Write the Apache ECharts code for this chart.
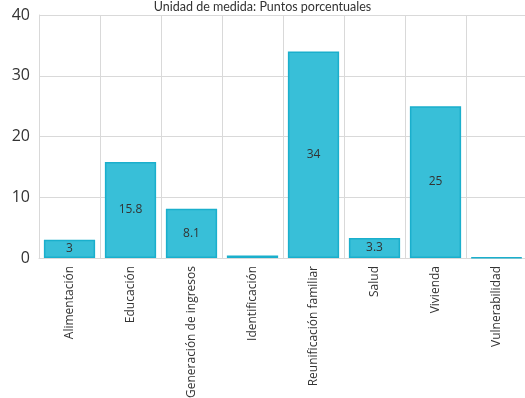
<!DOCTYPE html>
<html>
<head>
<meta charset="utf-8">
<script src="https://cdn.jsdelivr.net/npm/echarts@6/dist/echarts.min.js"></script>
<style>
  html, body { margin: 0; padding: 0; background: #fff; }
  #main { width: 525px; height: 398px; }
</style>
</head>
<body>
<div id="main"></div>
<script>
const categories = ['Alimentación', 'Educación', 'Generación de ingresos', 'Identificación',
  'Reunificación familiar', 'Salud', 'Vivienda', 'Vulnerabilidad'];
const values = [3, 15.8, 8.1, 0.4, 34, 3.3, 25, 0.1];
const yTicks = [0, 10, 20, 30, 40];

const chart = echarts.init(document.getElementById('main'));
chart.setOption({
  animation: false,
  textStyle: { fontFamily: 'Open Sans' },
  title: {
    text: 'Unidad de medida: Puntos porcentuales',
    left: 'center',
    top: -5,
    textStyle: { fontSize: 12.5, fontWeight: 'normal', color: '#333', fontFamily: 'Lato' }
  },
  grid: { left: 39, top: 15, width: 488, height: 243, containLabel: false, outerBoundsMode: 'none' },
  xAxis: {
    type: 'category',
    data: categories,
    axisTick: { show: false },
    axisLine: { lineStyle: { color: '#d9d9d9' } },
    splitLine: { show: true, lineStyle: { color: '#d9d9d9' } },
    axisLabel: { rotate: 90, fontSize: 12, color: '#333', margin: 8, interval: 0 }
  },
  yAxis: {
    type: 'value',
    min: yTicks[0],
    max: yTicks[yTicks.length - 1],
    interval: 10,
    axisLine: { show: true, lineStyle: { color: '#d9d9d9' } },
    axisTick: { show: false },
    splitLine: { lineStyle: { color: '#d9d9d9' } },
    axisLabel: { fontSize: 16, color: '#333', margin: 9 }
  },
  series: [{
    type: 'bar',
    data: values,
    barCategoryGap: '16%',
    itemStyle: { color: '#38bfd8', borderColor: '#1aafcc', borderWidth: 1.5 },
    label: {
      show: true,
      position: 'inside',
      fontSize: 12,
      color: '#333',
      formatter: p => (p.value >= 1 ? String(p.value) : '')
    }
  }]
});
</script>
</body>
</html>
